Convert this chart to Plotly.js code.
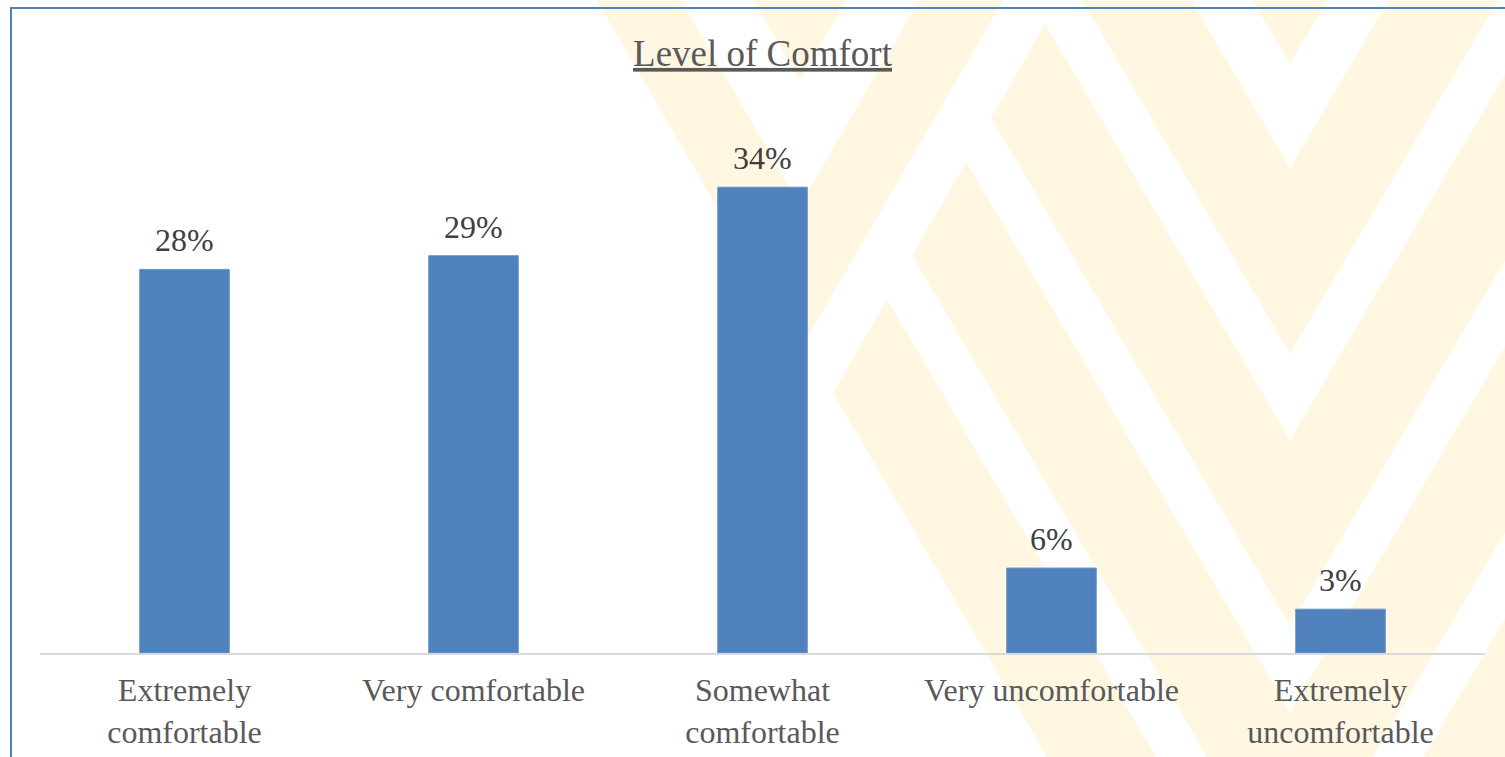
<!DOCTYPE html>
<html>
<head>
<meta charset="utf-8">
<script src="https://cdn.plot.ly/plotly-3.0.1.min.js"></script>
<style>
  html, body { margin: 0; padding: 0; background: #ffffff; }
  #chart { width: 1505px; height: 757px; }
</style>
</head>
<body>
<div id="chart"></div>
<script>
// ---- Data ----
const categories = ['Extremely comfortable', 'Very comfortable', 'Somewhat comfortable', 'Very uncomfortable', 'Extremely uncomfortable'];
const tickLabels = ['Extremely<br>comfortable', 'Very comfortable', 'Somewhat<br>comfortable', 'Very uncomfortable', 'Extremely<br>uncomfortable'];
const values = [28.0, 29.0, 34.0, 6.2, 3.2];          // percent (bar heights)
const valueLabels = ['28%', '29%', '34%', '6%', '3%']; // data labels as printed
const chartTitle = 'Level of Comfort';

// ---- Layout geometry (pixels) ----
const W = 1505, H = 757;
const M = { l: 40, r: 20, t: 80, b: 104 };
const plotW = W - M.l - M.r, plotH = H - M.t - M.b;

const FONT = "'Times New Roman', 'Liberation Serif', serif";
const WM = 'rgb(255,247,226)';   // faint watermark colour

// pixel -> paper conversion for decorative shapes
function px(x) { return (x - M.l) / plotW; }
function py(y) { return (H - M.b - y) / plotH; }
function poly(pts) {
  return 'M ' + pts.map(p => px(p[0]).toFixed(5) + ',' + py(p[1]).toFixed(5)).join(' L ') + ' Z';
}
function tri(cx, k, v, top) {
  const h = (v - top) / k;
  return [[cx - h, top], [cx + h, top], [cx, v]];
}
function vband(cx, k, yIn, yOut, top) {
  const a = (yOut - top) / k, b = (yIn - top) / k;
  return [[cx - a, top], [cx - b, top], [cx, yIn], [cx + b, top], [cx + a, top], [cx, yOut]];
}
function wmShape(pts, color) {
  return { type: 'path', xref: 'paper', yref: 'paper', layer: 'below',
           path: poly(pts), fillcolor: color, line: { width: 0 } };
}

const TOP = -20;
const shapes = [];
// right chevron (nested V's)
const kR = 1.7, cxR = 1290;
shapes.push(wmShape(tri(cxR, kR, 64, TOP), WM));
[[168, 354], [440, 626], [712, 898], [984, 1170]].forEach(b => shapes.push(wmShape(vband(cxR, kR, b[0], b[1], TOP), WM)));
// white stripe that cuts the left arms of the nested V's
const L = y => 1059 - y / 1.74;
shapes.push(wmShape([[L(TOP), TOP], [L(800), 800], [-60, 800], [-60, TOP]], '#ffffff'));
// left chevron
const kL = 1.72, cxL = 800;
shapes.push(wmShape(tri(cxL, kL, 80, TOP), WM));
shapes.push(wmShape(vband(cxL, kL, 205, 350, TOP), WM));
// chart frame (blue border, top & left visible)
shapes.push({ type: 'path', xref: 'paper', yref: 'paper', layer: 'below',
  path: 'M ' + px(11) + ',' + py(H + 20) + ' L ' + px(11) + ',' + py(8) + ' L ' + px(W + 20) + ',' + py(8),
  line: { color: '#4F81BD', width: 2 } });

const annotations = categories.map((c, i) => ({
  x: c, y: values[i], xref: 'x', yref: 'y',
  text: valueLabels[i], showarrow: false, yanchor: 'bottom', yshift: 9,
  font: { family: FONT, size: 32, color: '#404040' }
}));

const trace = {
  type: 'bar',
  x: categories,
  y: values,
  marker: { color: '#4F81BD', line: { color: '#6A95CC', width: 1 } },
  hoverinfo: 'skip'
};

const layout = {
  width: W, height: H,
  margin: M,
  paper_bgcolor: '#ffffff',
  plot_bgcolor: 'rgba(0,0,0,0)',
  showlegend: false,
  bargap: 0.69,
  title: {
    text: '<u>' + chartTitle + '</u>',
    font: { family: FONT, size: 37, color: '#595959' },
    xref: 'paper', x: 0.5, xanchor: 'center',
    yref: 'container', y: 1 - 53 / H, yanchor: 'middle'
  },
  xaxis: {
    type: 'category',
    tickmode: 'array', tickvals: categories, ticktext: tickLabels,
    showline: true, linecolor: '#D9D9D9', linewidth: 1.5,
    showgrid: false, zeroline: false, ticks: '',
    ticklabelstandoff: 8,
    tickfont: { family: FONT, size: 32, color: '#595959' },
    fixedrange: true
  },
  yaxis: {
    range: [0, plotH / 13.7],
    visible: false, showgrid: false, zeroline: false, fixedrange: true
  },
  shapes: shapes,
  annotations: annotations
};

Plotly.newPlot('chart', [trace], layout, { displayModeBar: false, responsive: false });
</script>
</body>
</html>
